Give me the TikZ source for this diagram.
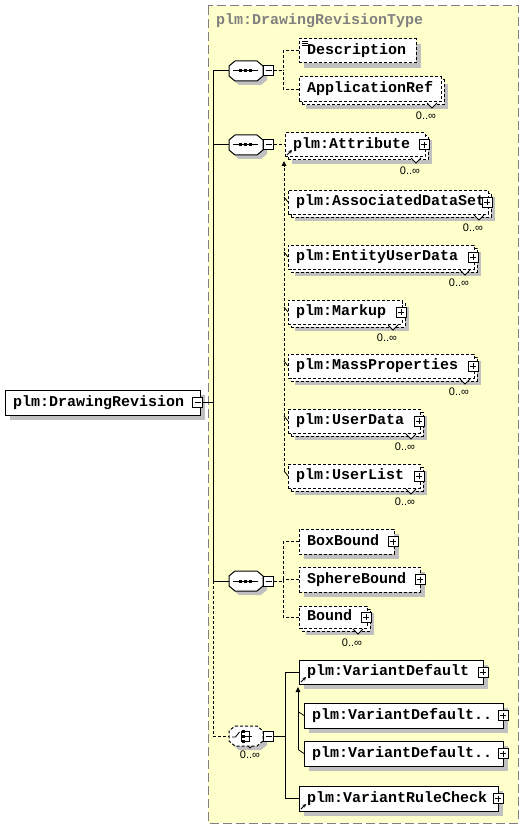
\documentclass[tikz,border=0pt]{standalone}
\usepackage{fontspec}
\newfontfamily\xmono{Liberation Mono}
\newfontfamily\xsans{Liberation Sans}
\usetikzlibrary{arrows.meta,calc}
\definecolor{bgyellow}{RGB}{255,255,204}
\definecolor{shadowgray}{RGB}{192,192,192}
\definecolor{framegray}{RGB}{128,128,128}
\tikzset{
  ln/.style={line width=1pt},
  dsh/.style={dash pattern=on 3pt off 2pt},
  elbase/.style={rectangle, draw, fill=white, ln, inner xsep=8pt, inner ysep=0pt, outer sep=0pt,
    align=left, text height=10pt, text depth=3pt, font=\xmono\bfseries\fontsize{15}{15}\selectfont},
  single/.style={elbase, preaction={fill=shadowgray, transform canvas={xshift=5pt,yshift=-5pt}}},
  multi/.style={elbase, preaction={fill=shadowgray, transform canvas={xshift=7pt,yshift=-7pt}},
    preaction={fill=white, draw=black, line width=1pt, dsh, transform canvas={xshift=3pt,yshift=-3pt}}},
  opt/.style={dsh},
  sq/.style={rectangle, draw, fill=white, ln, minimum size=10pt, inner sep=0pt, outer sep=0pt},
  mult/.style={font=\xsans\fontsize{11}{11}\selectfont, inner sep=0pt},
  tick/.style={line width=0.8pt},
  refarrow/.style={line width=0.8pt, -{Stealth[length=3.5pt,width=3.5pt]}},
  comp/.style={rectangle, minimum width=34pt, minimum height=20pt, inner sep=0pt, outer sep=0pt},
}
\newcommand\elem[7]{%
  \pgfmathsetmacro\ew{#5-#3}\pgfmathsetmacro\eh{#6-#4}\pgfmathsetmacro\tw{#5-#3-16}%
  \node[#1, minimum width=\ew pt, minimum height=\eh pt, text width=\tw pt] (#2) at ({(#3+#5)/2},{(#4+#6)/2}) {\mbox{#7}};}
\newcommand\plusbox[3]{%
  \node[sq] (#1) at (#2,#3) {};
  \draw[ln] ($(#1.center)+(-3,0)$) -- ($(#1.center)+(3,0)$);
  \draw[ln] ($(#1.center)+(0,-3)$) -- ($(#1.center)+(0,3)$);}
\newcommand\minusbox[3]{%
  \node[sq] (#1) at (#2,#3) {};
  \draw[ln] ($(#1.center)+(-3,0)$) -- ($(#1.center)+(3,0)$);}
\newcommand\notch[2]{%
  \fill[white] (#1-5,#2-2) -- (#1,#2+3) -- (#1+5,#2-2) -- cycle;
  \draw[line width=0.8pt] (#1-5,#2-2) -- (#1,#2+3) -- (#1+5,#2-2);}
\newcommand\octapath[1]{([xshift=6pt]#1.north west) -- ([xshift=-6pt]#1.north east) -- ([yshift=-5pt]#1.north east) -- ([yshift=5pt]#1.south east) -- ([xshift=-6pt]#1.south east) -- ([xshift=6pt]#1.south west) -- ([yshift=5pt]#1.south west) -- ([yshift=-5pt]#1.north west) -- cycle}
\newcommand\seqicon[2]{%
  \draw[ln] (#1-13,#2) -- (#1+12,#2);
  \fill (#1-7,#2-1.5) rectangle +(3,3);
  \fill (#1-2,#2-1.5) rectangle +(3,3);
  \fill (#1+3,#2-1.5) rectangle +(3,3);}
\begin{document}
\begin{tikzpicture}[x=1pt,y=-1pt]
\useasboundingbox (0,0) rectangle (524,829);
\fill[white] (0,0) rectangle (524,829);
% type frame
\filldraw[fill=bgyellow, draw=framegray, dash pattern=on 9pt off 4pt, line width=1pt] (208,6) rectangle (518,823);
\node[anchor=base west, inner sep=0pt, text=framegray, font=\xmono\bfseries\fontsize{15}{15}\selectfont] (title) at (216,25) {plm:DrawingRevisionType};

% main element
\elem{single}{main}{5}{390}{200}{415}{plm:DrawingRevision}
\minusbox{mmain}{197.5}{402.5}

% trunk
\coordinate (tmain) at (213,402.5);
\coordinate (t1) at (213,71);
\coordinate (t2) at (213,145);
\coordinate (t3) at (213,581);
\coordinate (t4) at (213,736);
\draw[ln] (mmain.east) -- (tmain);
\draw[ln] (t1) -- (t3);
\draw[ln,dsh] (t3) -- (t4);

% compositors
\node[comp] (seq1) at (246,71) {};
\node[comp] (seq2) at (246,145) {};
\node[comp] (seq3) at (246,581) {};
\node[comp] (ch) at (246,736) {};
\foreach \s in {seq1,seq2,seq3,ch}{
  \fill[shadowgray, transform canvas={xshift=4pt,yshift=-4pt}] \octapath{\s};
}
\filldraw[fill=white, ln] \octapath{seq1};
\filldraw[fill=white, ln] \octapath{seq2};
\filldraw[fill=white, ln] \octapath{seq3};
\notch{250}{745}
\filldraw[fill=white, ln, dsh] \octapath{ch};
\seqicon{246}{71}
\seqicon{246}{145}
\seqicon{246}{581}
% choice icon
\draw[line width=0.9pt] (232,737) -- (235.5,737) -- (239.5,732);
\draw[line width=0.9pt] (241.5,730.5) -- (241.5,741.5);
\fill (242,729.5) rectangle +(3,3);
\fill (242,734.5) rectangle +(3,3);
\fill (242,739.5) rectangle +(3,3);
\draw[line width=0.9pt] (245,731) -- (249,731) -- (249,741) -- (245,741);
\draw[line width=0.9pt] (245,736) -- (252,736);
\node[mult] (chm) at (250,755) {0..∞};

\minusbox{m1}{268.5}{71}
\minusbox{m2}{268.5}{145}
\minusbox{m3}{268.5}{581}
\minusbox{m4}{268.5}{736}

\draw[ln] (t1) -- (seq1.west);
\draw[ln] (t2) -- (seq2.west);
\draw[ln] (t3) -- (seq3.west);
\draw[ln,dsh] (t4) -- (ch.west);

% sequence 1
\elem{single,opt}{desc}{299}{39}{416}{63}{Description}
\draw[line width=0.7pt] (302,41) -- (308,41) (302,43) -- (308,43) (302,45) -- (308,45);
\elem{multi,opt}{appref}{299}{77}{441}{102}{ApplicationRef}
\notch{432}{105}
\node[mult] (apprefm) at (426,116) {0..∞};
\coordinate (b1) at (283,71);
\draw[ln,dsh] (m1.east) -- (b1);
\draw[ln,dsh] (desc.west) -| (b1);
\draw[ln,dsh] (appref.west) -| (b1);

% sequence 2 : substitution group of plm:Attribute
\elem{multi,opt}{attr}{285}{133}{425}{157}{plm:Attribute}
\plusbox{pattr}{424}{145}
\notch{416}{160}
\node[mult] (attrm) at (410,171) {0..∞};
\draw[refarrow] (287,155) -- (292,150);
\draw[ln,dsh] (m2.east) -- (attr.west);

\elem{multi,opt}{ads}{288}{190}{488}{214}{plm:AssociatedDataSet}
\plusbox{pads}{487}{202}
\notch{479}{217}
\node[mult] (adsm) at (473,228) {0..∞};

\elem{multi,opt}{eud}{288}{245}{474}{269}{plm:EntityUserData}
\plusbox{peud}{473}{257}
\notch{465}{272}
\node[mult] (eudm) at (459,283) {0..∞};

\elem{multi,opt}{mku}{288}{300}{402}{324}{plm:Markup}
\plusbox{pmku}{401}{312}
\notch{393}{327}
\node[mult] (mkum) at (387,338) {0..∞};

\elem{multi,opt}{mass}{288}{354}{474}{378}{plm:MassProperties}
\plusbox{pmass}{473}{366}
\notch{465}{381}
\node[mult] (massm) at (459,392) {0..∞};

\elem{multi,opt}{udat}{288}{409}{420}{433}{plm:UserData}
\plusbox{pudat}{419}{421}
\notch{411}{436}
\node[mult] (udatm) at (405,447) {0..∞};

\elem{multi,opt}{ulist}{288}{464}{420}{488}{plm:UserList}
\plusbox{pulist}{419}{476}
\notch{411}{491}
\node[mult] (ulistm) at (405,502) {0..∞};

\coordinate (s1t) at (284,161);
\coordinate (s1b) at (284,471);
\draw[ln,dsh,-{Triangle[length=5pt,width=4.5pt]}] (s1b) -- (s1t);
\foreach \n in {ads,eud,mku,mass,udat,ulist}{
  \draw[tick] ($(\n.west)+(-4,-5)$) -- (\n.west);
}

% sequence 3
\elem{single,opt}{boxb}{299}{529}{394}{554}{BoxBound}
\plusbox{pboxb}{393}{541.5}
\elem{single,opt}{sphb}{299}{567}{420}{592}{SphereBound}
\plusbox{psphb}{420}{579.5}
\elem{multi,opt}{bound}{299}{606}{367}{628}{Bound}
\plusbox{pbound}{366}{617}
\notch{358}{631}
\node[mult] (boundm) at (352,643) {0..∞};
\coordinate (b3) at (283,581);
\draw[ln,dsh] (m3.east) -- (b3);
\draw[ln,dsh] (boxb.west) -| (b3);
\draw[ln,dsh] (sphb.west) -| (b3);
\draw[ln,dsh] (bound.west) -| (b3);

% choice
\elem{single}{vdef}{299}{660}{483}{684}{plm:VariantDefault}
\plusbox{pvdef}{483}{672}
\draw[refarrow] (301,682) -- (306,677);
\elem{single}{vd1}{304}{703}{503}{728}{plm:VariantDefault..}
\plusbox{pvd1}{503}{715.5}
\elem{single}{vd2}{304}{741}{503}{766}{plm:VariantDefault..}
\plusbox{pvd2}{503}{753.5}
\elem{single}{vrc}{299}{786}{498}{811}{plm:VariantRuleCheck}
\plusbox{pvrc}{498}{798.5}
\draw[refarrow] (301,809) -- (306,804);

\coordinate (c4) at (285,736);
\draw[ln] (m4.east) -- (c4);
\draw[ln] (vdef.west) -| (c4);
\draw[ln] (vrc.west) -| (c4);

\coordinate (s2t) at (298,687);
\coordinate (s2b) at (298,749.5);
\draw[ln,-{Triangle[length=5pt,width=4.5pt]}] (s2b) -- (s2t);
\foreach \n in {vd1,vd2}{
  \draw[tick] ($(\n.west)+(-6,-4)$) -- (\n.west);
}
\end{tikzpicture}
\end{document}
